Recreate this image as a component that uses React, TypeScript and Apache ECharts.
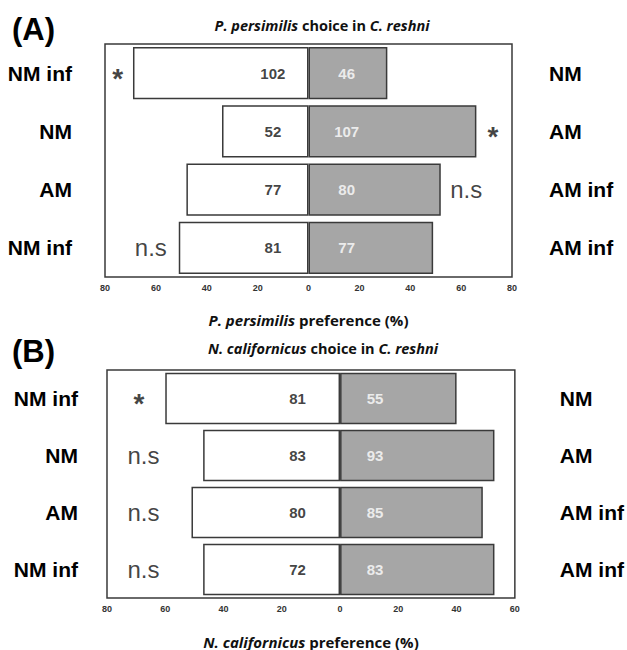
import React, { useEffect, useRef } from "react";
import * as echarts from "echarts";

const leftCategories = ["NM inf", "NM", "AM", "NM inf"];
const rightCategories = ["NM", "AM", "AM inf", "AM inf"];

// Panel A: P. persimilis
const leftPctA = [69, 34, 48, 51];
const rightPctA = [31, 66, 52, 49];
const leftCountA = [102, 52, 77, 81];
const rightCountA = [46, 107, 80, 77];
const sigA = ["*", "*", "n.s", "n.s"];
const sigXA = [-75, 72.5, 62, -62];

// Panel B: N. californicus
const leftPctB = [60, 47, 51, 47];
const rightPctB = [40, 53, 49, 53];
const leftCountB = [81, 83, 80, 72];
const rightCountB = [55, 93, 85, 83];
const sigB = ["*", "n.s", "n.s", "n.s"];
const sigXB = [-69, -67.5, -67.5, -67.5];

const ticksA = { min: -80, max: 80, interval: 20 };
const ticksB = { min: -80, max: 60, interval: 20 };

const LAB = "'Liberation Sans', Arial, sans-serif";
const CAL = "'Open Sans', sans-serif";
const BORDER = "#3a3a3a";

function panel(
  gi: number,
  leftPct: number[],
  rightPct: number[],
  leftCount: number[],
  rightCount: number[],
  sig: string[],
  sigX: number[],
  lx: number,
  rx: number,
  leftMargin: number,
  rightMargin: number,
  nameRich: string,
  nameGap: number,
  ticks: { min: number; max: number; interval: number }
) {
  const xAxis = {
    gridIndex: gi,
    type: "value",
    min: ticks.min,
    max: ticks.max,
    interval: ticks.interval,
    axisLine: { show: false },
    axisTick: { show: false },
    splitLine: { show: false },
    axisLabel: {
      formatter: (v: number) => String(Math.abs(v)),
      fontSize: 9,
      fontWeight: "bold",
      fontFamily: LAB,
      color: "#333",
      margin: 6,
    },
    name: nameRich,
    nameLocation: "middle",
    nameGap,
    nameTextStyle: {
      fontFamily: CAL,
      fontSize: 15,
      fontWeight: "bold",
      color: "#111",
      rich: {
        i: { fontFamily: CAL, fontSize: 15, fontWeight: "bold", fontStyle: "italic", color: "#111" },
      },
    },
  };
  const catLabel = {
    fontSize: 21,
    fontWeight: "bold",
    fontFamily: LAB,
    color: "#000",
  };
  const yLeft = {
    gridIndex: gi,
    type: "category",
    inverse: true,
    position: "left",
    data: leftCategories,
    axisLine: { show: false },
    axisTick: { show: false },
    axisLabel: { ...catLabel, margin: leftMargin, align: "right" },
  };
  const yRight = {
    gridIndex: gi,
    type: "category",
    inverse: true,
    position: "right",
    data: rightCategories,
    axisLine: { show: false },
    axisTick: { show: false },
    axisLabel: { ...catLabel, margin: rightMargin, align: "left" },
  };
  return { xAxis, yLeft, yRight, gi, leftPct, rightPct, leftCount, rightCount, sig, sigX, lx, rx };
}

export default function App() {
  const ref = useRef<HTMLDivElement>(null);
  useEffect(() => {
    if (!ref.current) return;
    const chart = echarts.init(ref.current, null, { renderer: "svg" });
    const pA = panel(0, leftPctA, rightPctA, leftCountA, rightCountA, sigA, sigXA, -14, 15, 33, 37,
      "{i|P. persimilis} preference (%)", 35, ticksA);
    const pB = panel(1, leftPctB, rightPctB, leftCountB, rightCountB, sigB, sigXB, -14.6, 12, 29, 45,
      "{i|N. californicus} preference (%)", 36, ticksB);
    const panels = [pA, pB];
    const series: any[] = [];
    panels.forEach((p, k) => {
      const xi = k;
      const yi = k * 2;
      series.push({
        type: "bar",
        xAxisIndex: xi,
        yAxisIndex: yi,
        data: p.leftPct.map((v) => -v),
        barGap: "-100%",
        barCategoryGap: "10%",
        itemStyle: { color: "#ffffff", borderColor: BORDER, borderWidth: 1.5 },
        silent: true,
      });
      series.push({
        type: "bar",
        xAxisIndex: xi,
        yAxisIndex: yi,
        data: p.rightPct,
        barGap: "-100%",
        barCategoryGap: "10%",
        itemStyle: { color: "#a6a6a6", borderColor: BORDER, borderWidth: 1.5 },
        silent: true,
      });
      series.push({
        type: "scatter",
        xAxisIndex: xi,
        yAxisIndex: yi,
        symbolSize: 1,
        itemStyle: { color: "transparent" },
        data: p.leftCount.map((c, i) => [p.lx, i, c]),
        label: {
          show: true,
          position: "inside",
          formatter: (q: any) => String(q.value[2]),
          fontSize: 15,
          fontWeight: "bold",
          fontFamily: LAB,
          color: "#111",
        },
        z: 5,
      });
      series.push({
        type: "scatter",
        xAxisIndex: xi,
        yAxisIndex: yi,
        symbolSize: 1,
        itemStyle: { color: "transparent" },
        data: p.rightCount.map((c, i) => [p.rx, i, c]),
        label: {
          show: true,
          position: "inside",
          formatter: (q: any) => String(q.value[2]),
          fontSize: 15,
          fontWeight: "bold",
          fontFamily: LAB,
          color: "#ffffff",
        },
        z: 5,
      });
      series.push({
        type: "scatter",
        xAxisIndex: xi,
        yAxisIndex: yi,
        symbolSize: 1,
        itemStyle: { color: "transparent" },
        data: p.sig.map((s, i) => [p.sigX[i], i, s]),
        label: {
          show: true,
          position: "inside",
          formatter: (q: any) => (q.value[2] === "*" ? "{a|*}" : "{n|n.s}"),
          rich: {
            a: { fontSize: 28, fontWeight: "bold", fontFamily: LAB, color: "#111", padding: [10, 0, 0, 0] },
            n: { fontSize: 24, fontFamily: LAB, color: "#111" },
          },
        },
        z: 5,
      });
    });

    const titleStyle = {
      fontFamily: CAL,
      fontSize: 14.5,
      fontWeight: "bold",
      color: "#111",
      rich: { i: { fontFamily: CAL, fontSize: 14.5, fontWeight: "bold", fontStyle: "italic", color: "#111" } },
    };

    chart.setOption({
      animation: false,
      backgroundColor: "#ffffff",
      title: [
        {
          text: "{i|P. persimilis} choice in {i|C. reshni}",
          left: 317,
          textAlign: "center",
          top: 13,
          textStyle: titleStyle,
        },
        {
          text: "{i|N. californicus} choice in {i|C. reshni}",
          left: 318,
          textAlign: "center",
          top: 336,
          textStyle: titleStyle,
        },
      ],
      grid: [
        { left: 105, top: 44, width: 407, height: 233, show: true, borderColor: BORDER, borderWidth: 1.5, backgroundColor: "transparent" },
        { left: 107, top: 370, width: 408, height: 232, show: true, borderColor: BORDER, borderWidth: 1.5, backgroundColor: "transparent" },
      ],
      xAxis: [pA.xAxis, pB.xAxis],
      yAxis: [pA.yLeft, pA.yRight, pB.yLeft, pB.yRight],
      series,
      graphic: [
        { type: "text", left: 12, top: 14, style: { text: "(A)", fontSize: 31, fontWeight: "bold", fontFamily: LAB, fill: "#000" } },
        { type: "text", left: 12, top: 336, style: { text: "(B)", fontSize: 31, fontWeight: "bold", fontFamily: LAB, fill: "#000" } },
      ],
    });
    return () => chart.dispose();
  }, []);
  return (
    <div
      ref={ref}
      style={{ position: "fixed", left: 0, top: 0, width: 627, height: 650, background: "#fff" }}
    />
  );
}
